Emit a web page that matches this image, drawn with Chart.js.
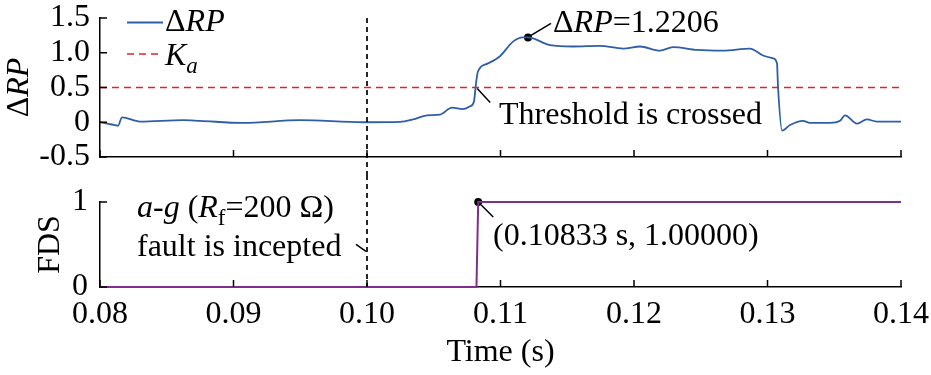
<!DOCTYPE html>
<html><head><meta charset="utf-8">
<script src="https://cdn.jsdelivr.net/npm/chart.js@4.4.0/dist/chart.umd.min.js"></script>
<style>
html,body{margin:0;padding:0;background:#fff;}
#wrap{position:relative;width:931px;height:375px;overflow:hidden;}
.box{position:absolute;left:0;width:931px;}
</style></head><body>
<div id="wrap">
<div class="box" style="top:0;height:175px"><canvas id="c1" width="931" height="175"></canvas></div>
<div class="box" style="top:175px;height:200px"><canvas id="c2" width="931" height="200"></canvas></div>
</div>
<script>
// ---------- data ----------
const timeRP = [0.08000,0.08052,0.08112,0.08135,0.08165,0.08300,0.08622,0.08749,0.09071,0.09498,0.09970,0.10247,0.10345,0.10449,0.10547,0.10637,0.10719,0.10772,0.10801,0.10816,0.10831,0.10899,0.10996,0.11094,0.11169,0.11206,0.11371,0.11543,0.11745,0.11918,0.12045,0.12195,0.12292,0.12472,0.12667,0.12869,0.12966,0.13041,0.13071,0.13079,0.13109,0.13169,0.13266,0.13318,0.13468,0.13543,0.13581,0.13670,0.13745,0.13820,0.14000];
const deltaRP = [0,-0.02,-0.04,-0.05,0.07,0.01,0.03,0.02,-0.01,0.03,0.00,0.005,0.04,0.10,0.11,0.21,0.19,0.23,0.30,0.55,0.73,0.84,0.95,1.16,1.22,1.2206,1.11,1.09,1.10,1.06,1.09,1.03,1.08,1.04,1.03,1.06,0.96,0.92,0.85,0.50,-0.12,-0.04,0.02,-0.01,-0.01,0.02,0.10,-0.02,0.04,0.01,0.01];
const kaTime = [0.08, 0.14];
const kaValue = [0.5, 0.5];
const timeFDS = [0.08, 0.10820, 0.10833, 0.14];
const valueFDS = [0, 0, 1, 1];
const faultTime = 0.10;
const peakPoint = {x: 0.11206, y: 1.2206};
const fdsPoint = {x: 0.10833, y: 1};
const xTicks = [0.08, 0.09, 0.10, 0.11, 0.12, 0.13, 0.14];
const xTickLabels = ['0.08','0.09','0.10','0.11','0.12','0.13','0.14'];
const rpTicks = [-0.5, 0, 0.5, 1.0, 1.5];
const rpTickLabels = ['-0.5','0','0.5','1.0','1.5'];
const fdsTicks = [0, 1];
const fdsTickLabels = ['0','1'];

// ---------- styles ----------
const FONT = '"Liberation Serif", "Times New Roman", serif';
const FS = 32;
const BLUE = '#2f5ea8', RED = '#e3232c', PURPLE = '#7e2f8e';

function drawRich(ctx, segs, x, y, size, align) {
  let total = 0;
  const parts = segs.map(s => {
    const sz = s.sub ? size * 0.72 : size;
    const f = (s.it ? 'italic ' : '') + sz + 'px ' + FONT;
    ctx.font = f;
    const w = ctx.measureText(s.t).width;
    total += w;
    return {s, f, w, dy: s.sub ? size * 0.24 : 0};
  });
  let cx = align === 'center' ? x - total / 2 : x;
  ctx.textBaseline = 'alphabetic';
  ctx.textAlign = 'left';
  for (const p of parts) {
    ctx.font = p.f;
    ctx.fillText(p.s.t, cx, y + p.dy);
    cx += p.w;
  }
}
function seg(ctx, x1, y1, x2, y2, w, dash, color) {
  ctx.save();
  ctx.strokeStyle = color || '#000';
  ctx.lineWidth = w;
  ctx.setLineDash(dash || []);
  ctx.beginPath(); ctx.moveTo(x1, y1); ctx.lineTo(x2, y2); ctx.stroke();
  ctx.restore();
}
function inwardTicks(chart) {
  const ctx = chart.ctx, ca = chart.chartArea;
  const xs = chart.scales.x, ys = chart.scales.y;
  xs.ticks.forEach(t => { const px = xs.getPixelForValue(t.value); seg(ctx, px, ca.bottom, px, ca.bottom - 7, 1.5); });
  ys.ticks.forEach(t => { const py = ys.getPixelForValue(t.value); seg(ctx, ca.left, py, ca.left + 7, py, 1.5); });
}

const commonX = (showLabels, h) => ({
  type: 'linear', min: 0.08, max: 0.14,
  afterBuildTicks: s => { s.ticks = xTicks.map(v => ({value: v})); },
  afterFit: s => { s.height = h; s.paddingLeft = 0; s.paddingRight = 0; },
  ticks: { display: showLabels, autoSkip: false, color: '#000', font: {family: FONT, size: FS}, padding: 8, maxRotation: 0,
           callback: (v) => { const i = xTicks.findIndex(t => Math.abs(t - v) < 1e-9); return i >= 0 ? xTickLabels[i] : ''; } },
  grid: { display: true, drawOnChartArea: false, drawTicks: false },
  border: { display: true, color: '#000', width: 1.5 }
});

// ---------- top chart ----------
const topPlugin = {
  id: 'topDeco',
  afterDraw(chart) {
    const ctx = chart.ctx, ca = chart.chartArea;
    const xs = chart.scales.x, ys = chart.scales.y;
    inwardTicks(chart);
    // fault inception line
    const fx = xs.getPixelForValue(faultTime);
    seg(ctx, fx, ca.top, fx, chart.height, 1.7, [5, 4]);
    ctx.save();
    ctx.fillStyle = '#000';
    // y title
    ctx.save();
    ctx.translate(28, (ca.top + ca.bottom) / 2);
    ctx.rotate(-Math.PI / 2);
    drawRich(ctx, [{t:'Δ'},{t:'RP', it:true}], 0, 0, FS, 'center');
    ctx.restore();
    // legend
    const ds = chart.data.datasets;
    seg(ctx, 127, 22.5, 163, 22.5, ds[0].borderWidth, [], ds[0].borderColor);
    drawRich(ctx, [{t:'Δ'},{t:'RP', it:true}], 165, 31, FS);
    seg(ctx, 127, 54, 160, 54, ds[1].borderWidth, ds[1].borderDash, ds[1].borderColor);
    drawRich(ctx, [{t:'K', it:true},{t:'a', it:true, sub:true}], 165, 65, FS);
    // peak annotation
    const px = xs.getPixelForValue(peakPoint.x), py = ys.getPixelForValue(peakPoint.y);
    seg(ctx, px + 3, py - 2, px + 23, py - 14, 1.5);
    drawRich(ctx, [{t:'Δ'},{t:'RP', it:true},{t:'=' + peakPoint.y.toFixed(4)}], 553, 32, FS);
    // threshold crossing annotation
    const tx = xs.getPixelForValue(0.10818), ty = ys.getPixelForValue(kaValue[0]);
    seg(ctx, tx + 1, ty + 1, tx + 14, ty + 15, 1.5);
    drawRich(ctx, [{t:'Threshold is crossed'}], 499, 124, FS);
    ctx.restore();
  }
};

new Chart(document.getElementById('c1'), {
  type: 'line',
  data: {
    datasets: [
      { label: 'ΔRP', data: timeRP.map((t, i) => ({x: t, y: deltaRP[i]})), borderColor: BLUE, borderWidth: 1.8,
        pointRadius: 0, cubicInterpolationMode: 'monotone', fill: false },
      { label: 'Ka', data: kaTime.map((t, i) => ({x: t, y: kaValue[i]})), borderColor: RED, borderWidth: 1.6,
        borderDash: [7, 5], pointRadius: 0, fill: false },
      { label: 'peak', data: [peakPoint], showLine: false, pointRadius: 4, pointBackgroundColor: '#000',
        pointBorderColor: '#000', pointBorderWidth: 0 }
    ]
  },
  options: {
    responsive: false, animation: false, devicePixelRatio: 1,
    layout: { padding: {left: 0, right: 30, top: 18, bottom: 15} },
    plugins: { legend: {display: false}, tooltip: {enabled: false} },
    scales: {
      x: commonX(false, 3),
      y: {
        min: -0.5, max: 1.5,
        afterBuildTicks: s => { s.ticks = rpTicks.map(v => ({value: v})); },
        afterFit: s => { s.width = 100; s.paddingTop = 0; s.paddingBottom = 0; },
        ticks: { autoSkip: false, color: '#000', font: {family: FONT, size: FS}, padding: 10,
                 callback: v => { const i = rpTicks.findIndex(t => Math.abs(t - v) < 1e-9); return i >= 0 ? rpTickLabels[i] : ''; } },
        grid: { display: true, drawOnChartArea: false, drawTicks: false },
        border: { display: true, color: '#000', width: 1.5 }
      }
    }
  },
  plugins: [topPlugin]
});

// ---------- bottom chart ----------
const botPlugin = {
  id: 'botDeco',
  afterDraw(chart) {
    const ctx = chart.ctx, ca = chart.chartArea;
    const xs = chart.scales.x, ys = chart.scales.y;
    inwardTicks(chart);
    const fx = xs.getPixelForValue(faultTime);
    seg(ctx, fx, 0, fx, ca.bottom, 1.7, [5, 4]);
    ctx.save();
    ctx.fillStyle = '#000';
    drawRich(ctx, [{t:'a-g', it:true},{t:' ('},{t:'R', it:true},{t:'f', sub:true},{t:'=200 Ω)'}], 137, 42, FS);
    drawRich(ctx, [{t:'fault is incepted'}], 137, 81, FS);
    const ay = ys.getPixelForValue(0.42);
    seg(ctx, fx - 11, ay - 7, fx - 1, ay, 1.5);
    const px = xs.getPixelForValue(fdsPoint.x), py = ys.getPixelForValue(fdsPoint.y);
    seg(ctx, px + 3, py + 3, px + 15, py + 15, 1.5);
    drawRich(ctx, [{t:'(' + fdsPoint.x.toFixed(5) + ' s, ' + fdsPoint.y.toFixed(5) + ')'}], 493, 70, FS);
    ctx.restore();
  }
};

new Chart(document.getElementById('c2'), {
  type: 'line',
  data: {
    datasets: [
      { label: 'FDS', data: timeFDS.map((t, i) => ({x: t, y: valueFDS[i]})), borderColor: PURPLE, borderWidth: 2,
        pointRadius: 0, fill: false, clip: false },
      { label: 'point', data: [fdsPoint], showLine: false, pointRadius: 4, pointBackgroundColor: '#000',
        pointBorderColor: '#000', pointBorderWidth: 0, clip: false }
    ]
  },
  options: {
    responsive: false, animation: false, devicePixelRatio: 1,
    layout: { padding: {left: 0, right: 30, top: 27, bottom: 0} },
    plugins: { legend: {display: false}, tooltip: {enabled: false} },
    scales: {
      x: Object.assign(commonX(true, 88), {
        title: { display: true, text: 'Time (s)', color: '#000', font: {family: FONT, size: FS}, padding: {top: 0, bottom: 3} }
      }),
      y: {
        min: 0, max: 1,
        afterBuildTicks: s => { s.ticks = fdsTicks.map(v => ({value: v})); },
        afterFit: s => { s.width = 100; s.paddingTop = 0; s.paddingBottom = 0; },
        ticks: { autoSkip: false, color: '#000', font: {family: FONT, size: FS}, padding: 12,
                 callback: v => { const i = fdsTicks.findIndex(t => Math.abs(t - v) < 1e-9); return i >= 0 ? fdsTickLabels[i] : ''; } },
        title: { display: true, text: 'FDS', color: '#000', font: {family: FONT, size: FS}, padding: {top: 31, bottom: 0} },
        grid: { display: true, drawOnChartArea: false, drawTicks: false },
        border: { display: true, color: '#000', width: 1.5 }
      }
    }
  },
  plugins: [botPlugin]
});
</script>
</body></html>
